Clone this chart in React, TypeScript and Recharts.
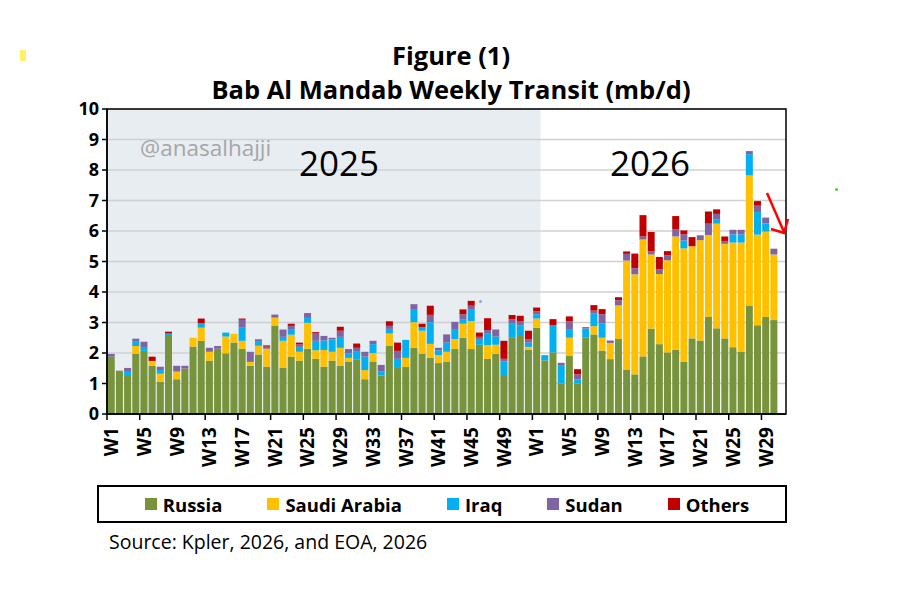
import React from 'react';
import { BarChart, Bar, XAxis, YAxis, CartesianGrid, ReferenceArea } from 'recharts';

// Categories: 2025 W1..W52, 2026 W1..W31
const weeks2025 = Array.from({ length: 52 }, (_, i) => `2025-W${i + 1}`);
const weeks2026 = Array.from({ length: 31 }, (_, i) => `2026-W${i + 1}`);
const categories = [...weeks2025, ...weeks2026];

const yTicks = [0, 1, 2, 3, 4, 5, 6, 7, 8, 9, 10];

const russia = [
  1.88, 1.42, 1.28, 1.97, 2.07, 1.58, 1.06, 2.59, 1.14, 1.49, 2.21, 2.40, 1.75,
  2.14, 1.99, 2.34, 2.14, 1.58, 1.95, 1.55, 2.90, 1.52, 1.88, 1.75, 2.14, 1.81,
  1.55, 1.75, 1.58, 1.72, 1.78, 1.14, 1.72, 1.26, 2.23, 1.51, 1.54, 2.17, 1.98,
  1.84, 1.67, 1.72, 2.13, 2.50, 2.13, 2.27, 1.81, 1.97, 1.28, 2.52, 2.59, 2.10,
  2.83, 1.76, 2.02, 1.00, 1.90, 1.00, 2.50, 2.61, 2.08, 1.80, 2.46, 1.46, 1.30,
  1.89, 2.80, 2.29, 2.02, 2.11, 1.72, 2.48, 2.41, 3.18, 2.81, 2.48, 2.19, 2.05,
  3.54, 2.91, 3.18, 3.08, null,
];
const saudi = [
  0, 0, 0, 0.26, 0, 0.16, 0.26, 0, 0.25, 0, 0.29, 0.43, 0.29,
  0, 0.55, 0.29, 0.26, 0.13, 0.29, 0.59, 0.26, 0.88, 0.72, 0.29, 0.85, 0.28,
  0.55, 0.29, 0.59, 0.12, 0, 0.30, 0.28, 0, 0.41, 0, 0.30, 0.84, 0.75,
  0.46, 0.26, 0.32, 0.33, 0.46, 0.92, 0, 0.45, 0.30, 0, 0, 0, 0.10,
  0.30, 0, 0, 0, 0.60, 0, 0, 0.27, 0.42, 0.53, 1.10, 3.57, 3.28,
  3.83, 2.43, 2.30, 3.02, 3.71, 3.71, 3.02, 3.29, 2.69, 3.43, 3.10, 3.43, 3.57,
  4.28, 2.97, 2.80, 2.15, null,
];
const iraq = [
  0, 0, 0.13, 0.16, 0.10, 0, 0.12, 0.05, 0, 0, 0, 0.15, 0,
  0, 0.13, 0, 0.43, 0, 0.13, 0, 0, 0.13, 0.16, 0.16, 0.16, 0.31,
  0.31, 0.41, 0.36, 0.15, 0.26, 0.44, 0.29, 0.13, 0.15, 0.30, 0.59, 0.43, 0.12,
  0.71, 0.16, 0.30, 0.30, 0.15, 0.39, 0.19, 0.39, 0.27, 0.44, 0.44, 0.31, 0.14,
  0.14, 0.17, 0.89, 0.58, 0.26, 0.13, 0.30, 0.41, 0.46, 0, 0, 0, 0,
  0, 0, 0, 0, 0, 0.26, 0, 0, 0, 0.13, 0, 0.27, 0.27,
  0.70, 0.74, 0.27, 0, null,
];
const sudan = [
  0.09, 0, 0.10, 0.08, 0.20, 0, 0.11, 0, 0.19, 0.09, 0, 0, 0.13,
  0.09, 0, 0, 0.26, 0.33, 0.08, 0.07, 0.10, 0.24, 0.13, 0.08, 0.16, 0.26,
  0.15, 0.05, 0.20, 0.14, 0.13, 0.16, 0.11, 0.22, 0.10, 0.26, 0, 0.16, 0,
  0.24, 0.08, 0.27, 0.26, 0.16, 0.11, 0.07, 0.10, 0.23, 0.09, 0.15, 0.15, 0.11,
  0.10, 0, 0, 0.10, 0.28, 0.17, 0.05, 0.10, 0.31, 0.08, 0.17, 0.22, 0.20,
  0.10, 0.10, 0.15, 0.16, 0.23, 0.20, 0, 0.16, 0.37, 0.19, 0.08, 0.15, 0.15,
  0.10, 0.21, 0.19, 0.19, null,
];
const others = [
  0, 0, 0, 0, 0, 0.14, 0, 0.06, 0, 0, 0, 0.15, 0,
  0, 0, 0, 0.04, 0, 0, 0.04, 0, 0, 0.07, 0.06, 0, 0.03,
  0, 0, 0.13, 0, 0.14, 0, 0, 0, 0.15, 0.27, 0, 0, 0.11,
  0.30, 0, 0, 0, 0.16, 0.16, 0.14, 0.39, 0, 0.59, 0.14, 0.17, 0.28,
  0.12, 0, 0.20, 0, 0.16, 0.17, 0, 0.18, 0.17, 0, 0.10, 0.08, 0.48,
  0.70, 0.64, 0.41, 0.14, 0.44, 0.13, 0.30, 0, 0.40, 0.15, 0.16, 0, 0,
  0, 0.15, 0, 0, null,
];

const series = [
  { key: 'russia', name: 'Russia', color: '#77933C' },
  { key: 'saudi', name: 'Saudi Arabia', color: '#FFC000' },
  { key: 'iraq', name: 'Iraq', color: '#00B0F0' },
  { key: 'sudan', name: 'Sudan', color: '#8064A2' },
  { key: 'others', name: 'Others', color: '#C00000' },
];

const data = categories.map((c, i) => ({
  key: c,
  russia: russia[i],
  saudi: saudi[i],
  iraq: iraq[i],
  sudan: sudan[i],
  others: others[i],
}));

const FONT = "'Open Sans', sans-serif";

function XTick(props: any) {
  const { x, y, payload } = props;
  const label = String(payload.value).split('-')[1];
  const off = payload.offset || 0;
  return (
    <g>
      <line x1={x - off} x2={x - off} y1={y - 13} y2={y - 7} stroke="#000" strokeWidth={1.5} />
      <text
        x={x}
        y={y}
        transform={`rotate(-90 ${x} ${y})`}
        textAnchor="end"
        dominantBaseline="central"
        fontFamily={FONT}
        fontWeight={700}
        fontSize={19}
        fill="#000"
      >
        {label}
      </text>
    </g>
  );
}

const abs = (s: React.CSSProperties): React.CSSProperties => ({ position: 'absolute', margin: 0, whiteSpace: 'nowrap', ...s });

export default function App() {
  return (
    <div style={{ position: 'absolute', left: 0, top: 0, width: 918, height: 589, background: '#fff', fontFamily: FONT }}>
      <BarChart
        width={918}
        height={589}
        data={data}
        margin={{ top: 109, right: 132, bottom: 115, left: 47 }}
        barCategoryGap="9%"
      >
        <ReferenceArea
          x1="2025-W1"
          x2="2026-W1"
          y1={0}
          y2={10}
          fill="#E8EDF1"
          fillOpacity={1}
          stroke="none"
          zIndex={-150}
          ifOverflow="visible"
        />
        <CartesianGrid vertical={false} stroke="#D0D0D0" strokeWidth={1.5} />
        <XAxis
          dataKey="key"
          interval={3}
          tick={<XTick />}
          tickLine={false}
          tickSize={6}
          tickMargin={7}
          height={60}
          axisLine={{ stroke: '#000', strokeWidth: 1.5 }}
        />
        <YAxis
          domain={[0, 10]}
          ticks={yTicks}
          width={60}
          interval={0}
          tickSize={5}
          tickMargin={3}
          tickLine={{ stroke: '#000', strokeWidth: 1.5 }}
          axisLine={{ stroke: '#000', strokeWidth: 1.5 }}
          tick={{ fill: '#000', fontSize: 18, fontWeight: 700, fontFamily: FONT }}
        />
        {series.map((s) => (
          <Bar key={s.key} dataKey={s.key} name={s.name} stackId="a" fill={s.color} isAnimationActive={false} />
        ))}
        <ReferenceArea y1={0} y2={10} fill="none" stroke="#000" strokeWidth={1.5} zIndex={600} ifOverflow="visible" />
      </BarChart>

      {/* Title */}
      <div style={abs({ left: 0, width: 902, top: 38, textAlign: 'center', fontWeight: 700, fontSize: 25.5, lineHeight: '34px', color: '#000' })}>
        Figure (1)
      </div>
      <div style={abs({ left: 0, width: 902, top: 72, textAlign: 'center', fontWeight: 700, fontSize: 25.5, lineHeight: '34px', color: '#000' })}>
        Bab Al Mandab Weekly Transit (mb/d)
      </div>

      {/* In-plot annotations */}
      <div style={abs({ left: 140, top: 133, fontSize: 22.5, lineHeight: '30px', color: '#A6A6A6' })}>@anasalhajji</div>
      <div style={abs({ left: 299, top: 141, fontSize: 35, lineHeight: '44px', color: '#000' })}>2025</div>
      <div style={abs({ left: 610, top: 141, fontSize: 35, lineHeight: '44px', color: '#000' })}>2026</div>

      {/* Legend */}
      <div
        style={abs({
          left: 97,
          top: 485,
          width: 690,
          height: 38,
          boxSizing: 'border-box',
          border: '2px solid #000',
          display: 'flex',
          alignItems: 'center',
          justifyContent: 'center',
          gap: 45,
          paddingLeft: 10,
        })}
      >
        {series.map((s) => (
          <div key={s.key} style={{ display: 'flex', alignItems: 'center', gap: 6 }}>
            <span style={{ width: 12, height: 12, background: s.color, display: 'inline-block' }} />
            <span style={{ fontWeight: 700, fontSize: 18.5, color: '#000' }}>{s.name}</span>
          </div>
        ))}
      </div>

      {/* Source */}
      <div style={abs({ left: 109, top: 528, fontSize: 19.5, lineHeight: '28px', color: '#000' })}>
        Source: Kpler, 2026, and EOA, 2026
      </div>

      {/* Decorations */}
      <div style={abs({ left: 20, top: 50, width: 6, height: 11, background: '#FFF06A' })} />
      <div style={abs({ left: 835, top: 188, width: 3, height: 3, background: '#5DC43A', borderRadius: 2 })} />
      <div style={abs({ left: 479, top: 300, width: 3, height: 3, background: '#8FA8C8', borderRadius: 2 })} />
      <svg style={abs({ left: 0, top: 0 })} width={918} height={589} pointerEvents="none">
        <line x1={767} y1={193} x2={784} y2={232} stroke="#FF0000" strokeWidth={2.5} />
        <polyline points="771,229 784,233 788,219" fill="none" stroke="#FF0000" strokeWidth={2.5} />
      </svg>
    </div>
  );
}
